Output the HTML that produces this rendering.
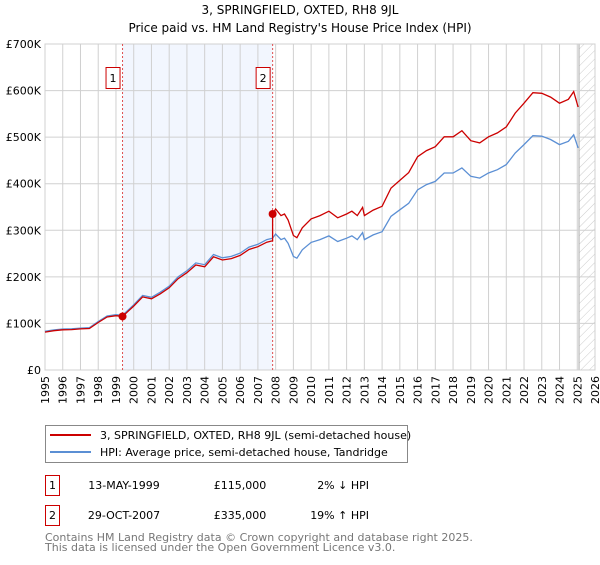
<!DOCTYPE html>
<html><head><meta charset="utf-8"><style>
body{margin:0;background:#fff;font-family:"Liberation Sans","DejaVu Sans",sans-serif}
svg text{font-family:"DejaVu Sans","Liberation Sans",sans-serif}
</style></head><body>
<svg id="c" width="600" height="560" viewBox="0 0 600 560" xmlns="http://www.w3.org/2000/svg">
<defs><pattern id="hatch" width="6" height="6" patternUnits="userSpaceOnUse" patternTransform="rotate(45)"><line x1="0" y1="0" x2="0" y2="6" stroke="#ccc" stroke-width="1"/></pattern></defs>
<text x="300" y="14" text-anchor="middle" font-size="12">3, SPRINGFIELD, OXTED, RH8 9JL</text>
<text x="300" y="32" text-anchor="middle" font-size="12">Price paid vs. HM Land Registry's House Price Index (HPI)</text>
<g id="plot"></g>
<g>
<rect x="45.5" y="425.5" width="362" height="37" fill="#fff" stroke="#888"/>
<line x1="50" y1="435" x2="91" y2="435" stroke="#cc0000" stroke-width="2"/>
<text x="100" y="439" font-size="11">3, SPRINGFIELD, OXTED, RH8 9JL (semi-detached house)</text>
<line x1="50" y1="452" x2="91" y2="452" stroke="#5b8fd4" stroke-width="2"/>
<text x="100" y="456" font-size="11">HPI: Average price, semi-detached house, Tandridge</text>
</g>
<g font-size="11">
<rect x="45.5" y="475.5" width="14" height="20" fill="#fff" stroke="#cc0000"/><text x="52.5" y="489" text-anchor="middle">1</text>
<text x="124" y="489" text-anchor="middle">13-MAY-1999</text>
<text x="240" y="489" text-anchor="middle">£115,000</text>
<text x="369" y="489" text-anchor="end">2% ↓ HPI</text>
<rect x="45.5" y="505.5" width="14" height="20" fill="#fff" stroke="#cc0000"/><text x="52.5" y="519" text-anchor="middle">2</text>
<text x="124" y="519" text-anchor="middle">29-OCT-2007</text>
<text x="240" y="519" text-anchor="middle">£335,000</text>
<text x="369" y="519" text-anchor="end">19% ↑ HPI</text>
</g>
<text x="45" y="541" font-size="11" fill="#777">Contains HM Land Registry data © Crown copyright and database right 2025.</text>
<text x="45" y="551" font-size="11" fill="#777">This data is licensed under the Open Government Licence v3.0.</text>
</svg>
<script>
const hpiYears=[1995,1995.5,1996,1996.5,1997,1997.5,1998,1998.5,1999,1999.37,2000,2000.5,2001,2001.5,2002,2002.5,2003,2003.5,2004,2004.5,2005,2005.5,2006,2006.5,2007,2007.5,2007.83,2008,2008.3,2008.5,2008.7,2009,2009.2,2009.5,2010,2010.5,2011,2011.5,2012,2012.3,2012.6,2012.9,2013,2013.5,2014,2014.5,2015,2015.5,2016,2016.5,2017,2017.5,2018,2018.5,2019,2019.5,2020,2020.5,2021,2021.5,2022,2022.5,2023,2023.5,2024,2024.5,2024.8,2025.05];
const hpiValues=[83000,86000,88000,88500,90000,91000,104000,116000,119000,117300,140000,160000,156000,167000,180000,200000,213000,230000,226000,248000,241000,244000,251000,264000,270000,280000,283000,292000,280000,283000,272000,244000,240000,258000,274000,280000,288000,276000,283000,288000,280000,295000,280000,290000,297000,330000,344000,358000,387000,398000,405000,423000,423000,434000,416000,412000,423000,430000,441000,466000,484000,503000,502000,495000,484000,491000,505000,477000];
const saleYears=[1999.37,2007.83];
const salePrices=[115000,335000];
const yTicks=[0,100000,200000,300000,400000,500000,600000,700000];
const yTickLabels=["£0","£100K","£200K","£300K","£400K","£500K","£600K","£700K"];
const xTicks=[1995,1996,1997,1998,1999,2000,2001,2002,2003,2004,2005,2006,2007,2008,2009,2010,2011,2012,2013,2014,2015,2016,2017,2018,2019,2020,2021,2022,2023,2024,2025,2026];

const NS="http://www.w3.org/2000/svg";
const X0=45,X1=595,Y0=370,Y1=44;
const xs=y=>X0+(y-1995)/(2026-1995)*(X1-X0);
const ys=v=>Y0-v/700000*(Y0-Y1);
const g=document.getElementById('plot');
function mk(t,a){const e=document.createElementNS(NS,t);for(const k in a)e.setAttribute(k,a[k]);g.appendChild(e);return e;}
function hpiAt(t){for(let i=0;i<hpiYears.length-1;i++){if(t>=hpiYears[i]&&t<=hpiYears[i+1]){const f=(t-hpiYears[i])/(hpiYears[i+1]-hpiYears[i]);return hpiValues[i]+f*(hpiValues[i+1]-hpiValues[i]);}}return hpiValues[hpiValues.length-1];}

let e=mk('rect',{x:X0,y:Y1,width:X1-X0,height:Y0-Y1,fill:'#fff'});

e=mk('rect',{x:xs(saleYears[0]),y:Y1,width:xs(saleYears[1])-xs(saleYears[0]),height:Y0-Y1,fill:'#f2f6fe'});

const hx=xs(2025.1);
e=mk('rect',{x:hx,y:Y1,width:X1-hx,height:Y0-Y1,fill:'url(#hatch)'});

mk('line',{x1:hx,y1:Y1,x2:hx,y2:Y0,stroke:'#aaa'});
yTicks.forEach((v,i)=>{
 const l=mk('line',{x1:X0,y1:ys(v),x2:X1,y2:ys(v),stroke:'#d0d0d0'});
 
 const t=mk('text',{x:41,y:ys(v)+4,'text-anchor':'end','font-size':'11'});t.textContent=yTickLabels[i];
 
});
xTicks.forEach(yr=>{
 const l=mk('line',{x1:xs(yr),y1:Y1,x2:xs(yr),y2:Y0,stroke:'#d0d0d0'});
 
 const t=mk('text',{x:0,y:0,'text-anchor':'end','font-size':'11',transform:`translate(${xs(yr)+4},376) rotate(-90)`});t.textContent=yr;
 
});
mk('rect',{x:X0,y:Y1,width:X1-X0,height:Y0-Y1,fill:'none',stroke:'#d0d0d0'});
saleYears.forEach((sy,i)=>{
 const l=mk('line',{x1:xs(sy),y1:Y1,x2:xs(sy),y2:Y0,stroke:'#e05050','stroke-dasharray':'2,2'});
 
 const r=mk('rect',{x:xs(sy)-16.5,y:67.5,width:14,height:21,fill:'#fff',stroke:'#cc0000'});
 
 const t=mk('text',{x:xs(sy)-9.5,y:82,'text-anchor':'middle','font-size':'11'});t.textContent=String(i+1);
});
let d='';hpiYears.forEach((yr,i)=>{d+=(i?'L':'M')+xs(yr).toFixed(1)+','+ys(hpiValues[i]).toFixed(1);});
e=mk('path',{d:d,fill:'none',stroke:'#5b8fd4','stroke-width':'1.3'});

const segs=[];let jumped=false;
const r0=salePrices[0]/hpiAt(saleYears[0]),r1=salePrices[1]/hpiAt(saleYears[1]);
hpiYears.forEach((yr,i)=>{
 if(yr<saleYears[1]) segs.push([xs(yr),ys(hpiValues[i]*r0)]);
 else { if(!jumped){segs.push([xs(saleYears[1]),ys(hpiAt(saleYears[1])*r0)]);jumped=true;}
  segs.push([xs(yr),ys(hpiValues[i]*r1)]);}
});
const pd=segs.map((p,i)=>(i?'L':'M')+p[0].toFixed(1)+','+p[1].toFixed(1)).join('');
e=mk('path',{d:pd,fill:'none',stroke:'#cc0000','stroke-width':'1.3'});

saleYears.forEach((sy,i)=>{
 const c=mk('circle',{cx:xs(sy),cy:ys(salePrices[i]),r:4,fill:'#cc0000'});
 
});
</script>
</body></html>
